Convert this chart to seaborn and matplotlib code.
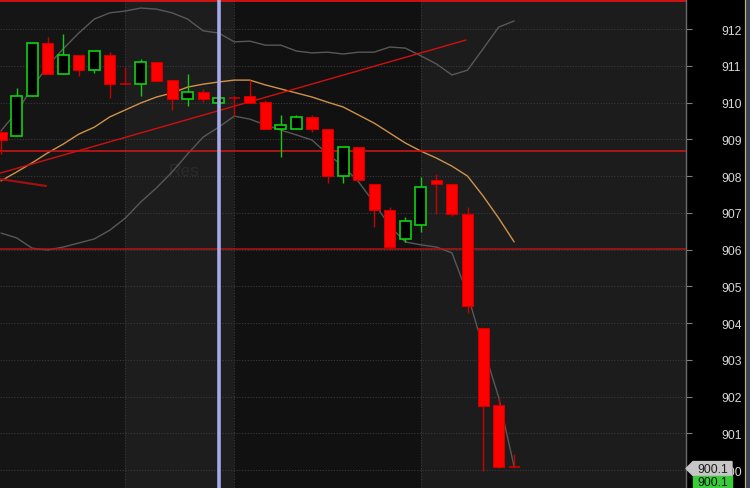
import numpy as np
import pandas as pd
import matplotlib
matplotlib.use("Agg")
import matplotlib.pyplot as plt
import seaborn as sns
from matplotlib.patches import Polygon, Rectangle
from matplotlib.lines import Line2D

# ---------------- data ----------------
opens  = [909.20, 909.09, 910.18, 911.62, 910.78, 911.29, 910.88, 911.29, 910.50, 910.50,
          911.10, 910.61, 910.10, 910.29, 909.99, 910.12, 910.18, 910.01, 909.28, 909.28,
          909.61, 909.28, 908.00, 908.79, 907.78, 907.08, 906.29, 906.67, 907.89, 907.78,
          906.97, 903.87, 901.77, 900.10]
highs  = [909.22, 910.40, 911.62, 911.78, 911.86, 911.29, 911.40, 911.37, 910.97, 911.18,
          911.10, 910.61, 910.78, 910.37, 910.12, 910.18, 910.61, 910.07, 909.66, 909.66,
          909.66, 909.28, 908.79, 908.79, 907.78, 907.16, 906.89, 907.98, 908.06, 907.78,
          907.16, 903.87, 901.96, 900.44]
lows   = [908.60, 909.09, 910.18, 910.78, 910.78, 910.72, 910.80, 910.12, 910.50, 910.18,
          910.59, 909.80, 909.91, 910.01, 909.99, 909.63, 909.99, 909.28, 908.52, 909.28,
          909.20, 907.81, 907.81, 907.89, 906.62, 905.99, 906.21, 906.48, 906.97, 906.91,
          904.28, 899.98, 900.06, 900.10]
closes = [908.98, 910.18, 911.62, 910.78, 911.29, 910.88, 911.40, 910.50, 910.50, 911.10,
          910.59, 910.10, 910.29, 910.10, 910.12, 910.12, 909.99, 909.28, 909.39, 909.61,
          909.28, 908.00, 908.79, 907.89, 907.08, 906.07, 906.78, 907.70, 907.78, 906.97,
          904.47, 901.75, 900.10, 900.10]
ma_line = [907.87, 908.11, 908.36, 908.63, 908.87, 909.14, 909.33, 909.61, 909.80, 909.99,
           910.15, 910.26, 910.42, 910.50, 910.56, 910.61, 910.61, 910.48, 910.37, 910.26,
           910.15, 910.01, 909.88, 909.66, 909.44, 909.17, 908.90, 908.68, 908.49, 908.27,
           908.00, 907.46, 906.86, 906.21]
upper_band = [909.23, 909.74, 910.40, 911.00, 911.46, 911.89, 912.27, 912.44, 912.49, 912.57,
              912.54, 912.44, 912.27, 911.95, 911.89, 911.65, 911.67, 911.56, 911.56, 911.40,
              911.35, 911.37, 911.32, 911.37, 911.37, 911.51, 911.48, 911.27, 911.05, 910.75,
              910.88, 911.46, 912.05, 912.22]
lower_band = [906.45, 906.32, 906.04, 905.99, 906.07, 906.18, 906.29, 906.53, 906.86, 907.30,
              907.68, 908.11, 908.60, 909.06, 909.33, 909.63, 909.55, 909.39, 909.25, 909.12,
              908.98, 908.60, 908.27, 907.84, 907.27, 906.64, 906.21, 906.13, 906.07, 905.91,
              904.79, 903.35, 901.99, 900.09]
price_ticks = list(range(900, 913))
level_lines = [912.76, 908.68, 906.02]
level_colors = ["#ff1010", "#d81414", "#b01515"]
session_breaks = [8, 15, 27]
marker_bar = 14
trend_x = [-0.06, 29.9]
trend_y = [908.08, 911.70]
short_x = [-0.06, 2.9]
short_y = [907.92, 907.73]
last_price = "900.1"

# ---------------- style ----------------
sns.set_style("dark")
plt.rcParams["font.family"] = ["Liberation Sans", "DejaVu Sans"]

W, H = 750, 489
fig = plt.figure(figsize=(7.5, 4.89), dpi=100, facecolor="black")
ax = fig.add_axes([0, 0, 686 / W, 1])
ax.set_facecolor("#171717")

x = np.arange(len(opens))
xmin, xmax = -0.064, 44.05
ax.set_xlim(xmin, xmax)
ax.set_ylim(899.517, 912.816)

# session shading
edges = [xmin] + session_breaks + [xmax]
shades = ["#151515", "#1d1d1d", "#111111", "#1c1c1c"]
for a, b, c in zip(edges[:-1], edges[1:], shades):
    ax.axvspan(a, b, color=c, zorder=0, lw=0)

# grid
for t in price_ticks:
    ax.axhline(t, color="#3a3a3a", lw=0.8, ls=(0, (1, 1.5)), zorder=1)
for s in session_breaks:
    ax.axvline(s, color="#3a3a3a", lw=0.8, ls=(0, (1, 1.5)), zorder=1)

ax.text(11.8, 908.14, "Res", color="#2b2b2b", fontsize=12.5, ha="center", va="center", zorder=1)

# bands and MA via seaborn
df = pd.DataFrame({"idx": x, "ma": ma_line, "up": upper_band, "lo": lower_band})
sns.lineplot(data=df, x="idx", y="up", ax=ax, color="#585858", lw=1.0, zorder=2)
sns.lineplot(data=df, x="idx", y="lo", ax=ax, color="#585858", lw=1.0, zorder=2)
sns.lineplot(data=df, x="idx", y="ma", ax=ax, color="#d0924a", lw=1.0, zorder=3)

# levels and trend lines
for lv, c in zip(level_lines, level_colors):
    ax.axhline(lv, color=c, lw=1.1, zorder=3)
ax.plot(trend_x, trend_y, color="#d01010", lw=1.0, zorder=3)
ax.plot(short_x, short_y, color="#a01010", lw=1.6, zorder=3)

# marker line
ax.axvline(marker_bar, color="#a8a8ea", lw=2.6, zorder=6)

# candles
bw = 0.71
for i in x:
    o, h, l, c = opens[i], highs[i], lows[i], closes[i]
    up = c > o
    wick_c = "#18c818" if up else "#c80000"
    ax.vlines(i, l, h, color=wick_c, lw=1.0, zorder=4)
    if abs(c - o) < 1e-6:
        ax.hlines(o, i - bw / 2, i + bw / 2, color="#c80000", lw=1.2, zorder=5)
    elif up:
        ax.bar(i, c - o, bottom=o, width=bw, color="black", edgecolor="#10d010", lw=1.2, zorder=5)
    else:
        ax.bar(i, o - c, bottom=c, width=bw, color="#ff0000", edgecolor="#d00000", lw=0.8, zorder=5)

# axes / ticks
ax.set_xlabel("")
ax.set_ylabel("")
ax.set_xticks([])
ax.set_yticks(price_ticks)
ax.set_yticklabels([str(t) for t in price_ticks])
ax.yaxis.tick_right()
ax.tick_params(axis="y", right=True, left=False, labelright=True, labelleft=False,
               length=4, width=0.8, color="#808080", labelcolor="#d8d8d8",
               labelsize=8.7, pad=21.5)
for s in ["left", "top", "bottom"]:
    ax.spines[s].set_visible(False)
ax.spines["right"].set_color("#6a6a6a")
ax.spines["right"].set_linewidth(1.0)
ax.grid(False)

# right decorations (figure pixels)
def fx(px):
    return px / W

def fy(py):
    return 1 - py / H

fig.lines.append(Line2D([fx(744.5), fx(744.5)], [0, 1], color="#c8b078", lw=0.8, transform=fig.transFigure))
fig.patches.append(Rectangle((fx(745.2), 0), fx(5), 1, color="#3c4454", transform=fig.transFigure, zorder=1))

fig.canvas.draw()
yp = H - ax.transData.transform((0, float(last_price)))[1]
yc = yp + 2
poly = Polygon([(fx(686), fy(yc)), (fx(693), fy(yc - 7)), (fx(732), fy(yc - 7)),
                (fx(732), fy(yc + 7)), (fx(693), fy(yc + 7))],
               closed=True, color="#c6c6c6", transform=fig.transFigure, zorder=5)
fig.patches.append(poly)
fig.text(fx(712.5), fy(yc), last_price, color="#1e1e1e", fontsize=8.7, ha="center", va="center", zorder=6)
fig.patches.append(Rectangle((fx(693), 0), fx(39), fy(yc + 7), color="#3acd3a",
                             transform=fig.transFigure, zorder=5))
fig.text(fx(712.5), fy(yc + 13.5), last_price, color="#101010", fontsize=8.7, ha="center", va="center", zorder=6)

fig.savefig("out.png", dpi=100, facecolor="black")
